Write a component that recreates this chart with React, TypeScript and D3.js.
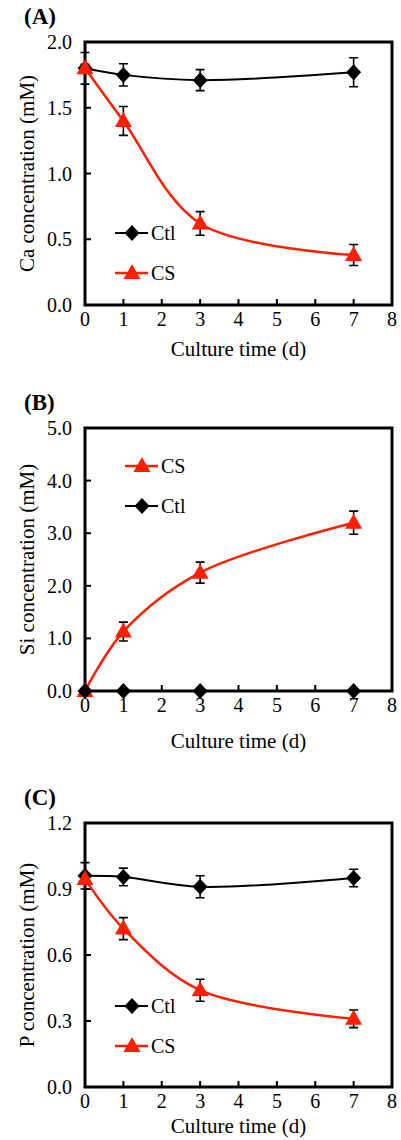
import React, { useEffect, useRef } from 'react'
import * as d3 from 'd3'

const days = [0, 1, 3, 7]
const xTicks = [0, 1, 2, 3, 4, 5, 6, 7, 8]

const caCtl = [1.8, 1.75, 1.71, 1.77]
const caCtlErr = [0.12, 0.085, 0.08, 0.11]
const caCs = [1.8, 1.4, 0.62, 0.38]
const caCsErr = [0.03, 0.11, 0.09, 0.08]
const caTicks = [0, 0.5, 1.0, 1.5, 2.0]

const siCtl = [0, 0, 0, 0]
const siCtlErr = [0, 0, 0, 0]
const siCs = [0, 1.13, 2.25, 3.2]
const siCsErr = [0, 0.18, 0.2, 0.22]
const siTicks = [0, 1, 2, 3, 4, 5]

const pCtl = [0.96, 0.955, 0.91, 0.95]
const pCtlErr = [0.06, 0.04, 0.05, 0.04]
const pCs = [0.945, 0.72, 0.44, 0.31]
const pCsErr = [0.02, 0.05, 0.05, 0.04]
const pTicks = [0, 0.3, 0.6, 0.9, 1.2]

const RED = '#ff1e00'
const FONT = 'Liberation Serif, Times New Roman, serif'

type Series = { name: string; values: number[]; err: number[]; kind: 'diamond' | 'triangle' }

const panels = [
  {
    label: '(A)',
    title: 'Ca concentration (mM)',
    top: 42,
    bottom: 305,
    titleOffset: 51,
    ticks: caTicks,
    series: [
      { name: 'Ctl', values: caCtl, err: caCtlErr, kind: 'diamond' },
      { name: 'CS', values: caCs, err: caCsErr, kind: 'triangle' },
    ] as Series[],
    legend: { x: 115, y: 233 },
  },
  {
    label: '(B)',
    title: 'Si concentration (mM)',
    top: 428,
    bottom: 691,
    titleOffset: 57,
    ticks: siTicks,
    series: [
      { name: 'CS', values: siCs, err: siCsErr, kind: 'triangle' },
      { name: 'Ctl', values: siCtl, err: siCtlErr, kind: 'diamond' },
    ] as Series[],
    legend: { x: 125, y: 466 },
  },
  {
    label: '(C)',
    title: 'P concentration (mM)',
    top: 823,
    bottom: 1087,
    titleOffset: 46,
    ticks: pTicks,
    series: [
      { name: 'Ctl', values: pCtl, err: pCtlErr, kind: 'diamond' },
      { name: 'CS', values: pCs, err: pCsErr, kind: 'triangle' },
    ] as Series[],
    legend: { x: 115, y: 1006 },
  },
]

const diamond = 'M0,-8L7.5,0L0,8L-7.5,0Z'
const triangle = 'M0,-9L8.5,6L-8.5,6Z'

export default function App() {
  const ref = useRef<SVGSVGElement>(null)

  useEffect(() => {
    const svg = d3.select(ref.current)
    svg.selectAll('*').remove()
    const left = 85
    const right = 392

    panels.forEach(p => {
      const g = svg.append('g')
      const x = d3.scaleLinear().domain([0, 8]).range([left, right])
      const y = d3
        .scaleLinear()
        .domain([0, p.ticks[p.ticks.length - 1]])
        .range([p.bottom, p.top])

      // panel label
      g.append('text')
        .attr('x', 24)
        .attr('y', p.top - 18)
        .attr('font-weight', 'bold')
        .attr('font-size', 23)
        .text(p.label)

      // ticks
      g.selectAll('.yt')
        .data(p.ticks)
        .enter()
        .append('line')
        .attr('x1', left)
        .attr('x2', left + 6)
        .attr('y1', d => y(d))
        .attr('y2', d => y(d))
        .attr('stroke', '#000')
        .attr('stroke-width', 2)
      g.selectAll('.ytl')
        .data(p.ticks)
        .enter()
        .append('text')
        .attr('x', left - 13)
        .attr('y', d => y(d) + 7)
        .attr('text-anchor', 'end')
        .attr('font-size', 20)
        .text(d => d3.format('.1f')(d))
      g.selectAll('.xt')
        .data(xTicks)
        .enter()
        .append('line')
        .attr('x1', d => x(d))
        .attr('x2', d => x(d))
        .attr('y1', p.bottom)
        .attr('y2', p.bottom - 6)
        .attr('stroke', '#000')
        .attr('stroke-width', 2)
      g.selectAll('.xtl')
        .data(xTicks)
        .enter()
        .append('text')
        .attr('x', d => x(d))
        .attr('y', p.bottom + 21)
        .attr('text-anchor', 'middle')
        .attr('font-size', 20)
        .text(d => d)

      // frame
      g.append('rect')
        .attr('x', left)
        .attr('y', p.top)
        .attr('width', right - left)
        .attr('height', p.bottom - p.top)
        .attr('fill', 'none')
        .attr('stroke', '#000')
        .attr('stroke-width', 3)

      // axis titles
      g.append('text')
        .attr('x', (left + right) / 2)
        .attr('y', p.bottom + p.titleOffset)
        .attr('text-anchor', 'middle')
        .attr('font-size', 21)
        .text('Culture time (d)')
      g.append('text')
        .attr('transform', `translate(34, ${(p.top + p.bottom) / 2}) rotate(-90)`)
        .attr('text-anchor', 'middle')
        .attr('font-size', 21)
        .text(p.title)

      const line = d3
        .line<number>()
        .x((d, i) => x(days[i]))
        .y(d => y(d))
        .curve(d3.curveCatmullRom.alpha(0.5))

      // error bars
      p.series.forEach(s => {
        const eb = g.selectAll(null).data(s.values.map((v, i) => ({ v, e: s.err[i], d: days[i] }))).enter()
        eb.filter(d => d.e > 0)
          .append('path')
          .attr('d', d => {
            const cx = x(d.d)
            const y0 = y(d.v - d.e)
            const y1 = y(d.v + d.e)
            return `M${cx},${y0}V${y1}M${cx - 4.5},${y0}H${cx + 4.5}M${cx - 4.5},${y1}H${cx + 4.5}`
          })
          .attr('fill', 'none')
          .attr('stroke', '#000')
          .attr('stroke-width', 1.6)
      })

      // lines and markers
      p.series.forEach(s => {
        const color = s.kind === 'diamond' ? '#000' : RED
        g.append('path')
          .attr('d', line(s.values))
          .attr('fill', 'none')
          .attr('stroke', color)
          .attr('stroke-width', s.kind === 'diamond' ? 2 : 2.5)
        g.selectAll(null)
          .data(s.values)
          .enter()
          .append('path')
          .attr('transform', (d, i) => `translate(${x(days[i])}, ${y(d)})`)
          .attr('d', s.kind === 'diamond' ? diamond : triangle)
          .attr('fill', color)
      })

      // legend
      p.series.forEach((s, i) => {
        const color = s.kind === 'diamond' ? '#000' : RED
        const ly = p.legend.y + i * 40
        const lx = p.legend.x
        g.append('line')
          .attr('x1', lx)
          .attr('x2', lx + 33)
          .attr('y1', ly)
          .attr('y2', ly)
          .attr('stroke', color)
          .attr('stroke-width', s.kind === 'diamond' ? 2 : 2.5)
        g.append('path')
          .attr('transform', `translate(${lx + 17}, ${ly})`)
          .attr('d', s.kind === 'diamond' ? diamond : triangle)
          .attr('fill', color)
        g.append('text')
          .attr('x', lx + 36)
          .attr('y', ly + 7)
          .attr('font-size', 20)
          .text(s.name)
      })
    })
  }, [])

  return (
    <svg
      ref={ref}
      width={401}
      height={1140}
      fontFamily={FONT}
      style={{ position: 'absolute', left: 0, top: 0, background: '#fff' }}
    />
  )
}
